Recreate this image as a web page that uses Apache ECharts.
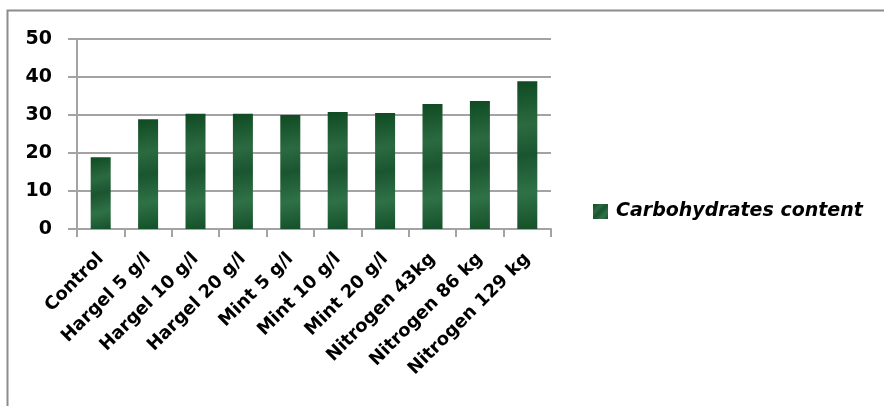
<!DOCTYPE html>
<html>
<head>
<meta charset="utf-8">
<script src="https://cdn.jsdelivr.net/npm/echarts@6/dist/echarts.min.js"></script>
<style>
  html, body { margin: 0; padding: 0; background: #fff; }
  #chart { width: 884px; height: 406px; }
</style>
</head>
<body>
<div id="chart"></div>
<script>
// Treatments along the x axis
const categories = [
  'Control', 'Hargel 5 g/l', 'Hargel 10 g/l', 'Hargel 20 g/l',
  'Mint 5 g/l', 'Mint 10 g/l', 'Mint 20 g/l',
  'Nitrogen 43kg', 'Nitrogen 86 kg', 'Nitrogen 129 kg'
];
// Carbohydrates content per treatment
const carbohydrates = [18.9, 28.9, 30.3, 30.3, 30.0, 30.8, 30.5, 32.9, 33.7, 38.9];
const seriesName = 'Carbohydrates content';

const chart = echarts.init(document.getElementById('chart'));

// Dark green fill with a soft lighter streak, close to a marbled texture
const barFill = new echarts.graphic.LinearGradient(0, 0, 1, 1, [
  { offset: 0, color: '#0f4a22' },
  { offset: 0.3, color: '#2b6a40' },
  { offset: 0.5, color: '#1a5530' },
  { offset: 0.75, color: '#2f7146' },
  { offset: 1, color: '#14502a' }
]);

const gray = '#a3a3a3';
const font = 'DejaVu Sans';

chart.setOption({
  animation: false,
  backgroundColor: '#fff',
  grid: { left: 77, right: 333, top: 39, bottom: 177, containLabel: false },
  legend: {
    data: [{ name: seriesName, icon: 'rect' }],
    left: 588,
    top: 197,
    itemWidth: 15,
    itemHeight: 15,
    textStyle: {
      fontFamily: font,
      fontWeight: 'bold',
      fontStyle: 'italic',
      fontSize: 19,
      color: '#000',
      padding: [0, 0, 0, 3]
    }
  },
  xAxis: {
    type: 'category',
    data: categories,
    boundaryGap: true,
    axisLine: { show: true, lineStyle: { color: gray, width: 2 } },
    axisTick: { show: true, length: 8, lineStyle: { color: gray, width: 2 } },
    axisLabel: {
      rotate: 45,
      margin: 27,
      interval: 0,
      fontFamily: font,
      fontWeight: 'bold',
      fontSize: 18,
      color: '#000'
    }
  },
  yAxis: {
    type: 'value',
    min: 0,
    max: 50,
    interval: 10,
    axisLine: { show: true, lineStyle: { color: gray, width: 2 } },
    axisTick: { show: true, length: 9, lineStyle: { color: gray, width: 2 } },
    splitLine: { show: true, lineStyle: { color: gray, width: 2 } },
    axisLabel: {
      margin: 25,
      fontFamily: font,
      fontWeight: 'bold',
      fontSize: 19,
      color: '#000'
    }
  },
  series: [{
    name: seriesName,
    type: 'bar',
    data: carbohydrates,
    barWidth: 20,
    itemStyle: { color: barFill }
  }],
  graphic: [
    {
      type: 'polyline',
      silent: true,
      shape: { points: [[7.5, 406], [7.5, 10.5], [884, 10.5]] },
      style: { stroke: '#8c8c8c', lineWidth: 2, fill: null }
    }
  ]
});
</script>
</body>
</html>
